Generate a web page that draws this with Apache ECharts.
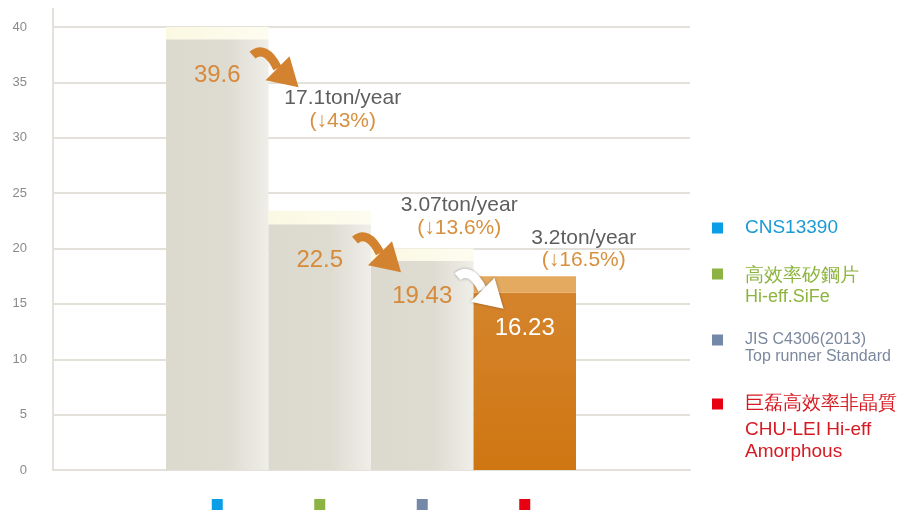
<!DOCTYPE html>
<html>
<head>
<meta charset="utf-8">
<script src="https://cdn.jsdelivr.net/npm/echarts@6/dist/echarts.min.js"></script>
<style>
  html, body { margin: 0; padding: 0; background: #fff; }
  #main { width: 898px; height: 516px; }
</style>
</head>
<body>
<div id="main"></div>
<script>
// data
var categories = ['CNS13390', '高效率矽鋼片', 'JIS C4306(2013)', '巨磊高效率非晶質'];
var valueLabels = ['39.6', '22.5', '19.43', '16.23'];
var barTops = [38.9, 22.2, 18.9, 16.0];   // top of the solid part
var capTops = [40.0, 23.4, 20.0, 17.5];   // top of the pale band above it
var savings = ['17.1ton/year', '3.07ton/year', '3.2ton/year'];
var savingPct = ['(↓43%)', '(↓13.6%)', '(↓16.5%)'];
var yMin = 0, yMax = 40, yStep = 5;

var squareColors = ['#0a9ee6', '#8db342', '#7489a8', '#e60012'];
var legendTexts = [
  [{ t: 'CNS13390', size: 19 }],
  [{ t: '高效率矽鋼片', size: 19 }, { t: 'Hi-eff.SiFe', size: 18 }],
  [{ t: 'JIS C4306(2013)', size: 16 }, { t: 'Top runner Standard', size: 16 }],
  [{ t: '巨磊高效率非晶質', size: 19 }, { t: 'CHU-LEI Hi-eff', size: 19 }, { t: 'Amorphous', size: 19 }]
];
var legendColors = ['#1b9ad4', '#8db43e', '#7b889e', '#d71a22'];

var FONT = '"Liberation Sans", Arial, sans-serif';
var lineColor = '#e3e1d9';
var orange = '#d3822f';

var greyFill = new echarts.graphic.LinearGradient(0, 0, 1, 0, [
  { offset: 0, color: '#dcd9ce' },
  { offset: 0.6, color: '#dedbd1' },
  { offset: 1, color: '#efeee8' }
]);
var capFill = new echarts.graphic.LinearGradient(0, 0, 1, 0, [
  { offset: 0, color: '#fbf8e2' },
  { offset: 1, color: '#fdfcf0' }
]);
var orangeFill = new echarts.graphic.LinearGradient(0, 0, 0, 1, [
  { offset: 0, color: '#d5842c' },
  { offset: 1, color: '#ce7612' }
]);

var chart = echarts.init(document.getElementById('main'), null, { renderer: 'canvas' });

var baseData = barTops.map(function (v, i) {
  var last = i === barTops.length - 1;
  return {
    value: v,
    itemStyle: { color: last ? orangeFill : greyFill },
    label: { color: last ? '#ffffff' : '#d68a3c' }
  };
});
var capData = capTops.map(function (v, i) {
  var last = i === capTops.length - 1;
  return {
    value: +(v - barTops[i]).toFixed(2),
    itemStyle: { color: last ? '#e4aa5f' : capFill }
  };
});

var option = {
  animation: false,
  grid: [
    { left: 53, right: 208, top: 27, bottom: 46 },
    { left: 166, right: 322, top: 27, bottom: 46 }
  ],
  xAxis: [
    {
      gridIndex: 0, type: 'category', data: [''],
      axisLine: { lineStyle: { color: lineColor, width: 2 } },
      axisTick: { show: false }, axisLabel: { show: false }
    },
    {
      gridIndex: 1, type: 'category', data: categories,
      axisLine: { show: false }, axisTick: { show: false },
      axisLabel: {
        margin: 29,
        formatter: function (v, i) { return '{s' + i + '|}'; },
        rich: {
          s0: { width: 11, height: 11, backgroundColor: squareColors[0] },
          s1: { width: 11, height: 11, backgroundColor: squareColors[1] },
          s2: { width: 11, height: 11, backgroundColor: squareColors[2] },
          s3: { width: 11, height: 11, backgroundColor: squareColors[3] }
        }
      }
    }
  ],
  yAxis: [
    {
      gridIndex: 0, type: 'value', min: yMin, max: yMax, interval: yStep,
      axisLine: { show: true, lineStyle: { color: lineColor, width: 2 } },
      axisTick: { show: false },
      axisLabel: { color: '#8a8a8a', fontSize: 13, fontFamily: FONT, margin: 26 },
      splitLine: { lineStyle: { color: lineColor, width: 2 } }
    },
    {
      gridIndex: 1, type: 'value', min: yMin, max: yMax, interval: yStep,
      axisLine: { show: false }, axisTick: { show: false },
      axisLabel: { show: false }, splitLine: { show: false }
    }
  ],
  series: [
    {
      type: 'bar', xAxisIndex: 1, yAxisIndex: 1, stack: 'a',
      barCategoryGap: 0, data: baseData,
      emphasis: { disabled: true },
      label: {
        show: true, position: 'insideTop', distance: 24,
        fontSize: 24, fontFamily: FONT,
        formatter: function (p) { return valueLabels[p.dataIndex]; }
      }
    },
    {
      type: 'bar', xAxisIndex: 1, yAxisIndex: 1, stack: 'a',
      barCategoryGap: 0, data: capData,
      emphasis: { disabled: true }
    }
  ]
};
chart.setOption(option);

// decorations anchored to the axes
function px(i, v) {
  return chart.convertToPixel({ xAxisIndex: 1, yAxisIndex: 1 }, [i, v]);
}
var band = px(1, 0)[0] - px(0, 0)[0];

function arrow(i, color, shadow) {
  var p = px(i, barTops[i]);
  var x = p[0] + band / 2 - 16;
  var y = p[1] + 16;
  var st = { fill: null, stroke: color, lineWidth: 9 };
  var hs = { fill: color };
  if (shadow) {
    st.shadowBlur = 3; st.shadowColor = 'rgba(0,0,0,0.35)';
    hs.shadowBlur = 3; hs.shadowColor = 'rgba(0,0,0,0.35)';
  }
  return {
    type: 'group', x: x, y: y, z: 100,
    children: [
      { type: 'bezierCurve', z: 100, shape: { x1: 0, y1: 0, cpx1: 8, cpy1: -7, cpx2: 17, cpy2: -3, x2: 25, y2: 13 }, style: st },
      { type: 'polygon', z: 100, shape: { points: [[13, 25], [37, 1], [46, 32]] }, style: hs }
    ]
  };
}

var annotOffset = [[23, 98, 121], [37, 205, 228], [59, 238, 260]];
var graphics = [];
var top0 = chart.convertToPixel({ xAxisIndex: 0, yAxisIndex: 0 }, [0, yMax]);
graphics.push({
  type: 'line', z: 1,
  shape: { x1: 53, y1: 8, x2: 53, y2: top0[1] },
  style: { stroke: lineColor, lineWidth: 2 }
});

graphics.push(arrow(0, orange, false));
graphics.push(arrow(1, orange, false));
graphics.push(arrow(2, '#ffffff', true));

savings.forEach(function (s, k) {
  var cx = px(k + 1, 0)[0] + annotOffset[k][0];
  graphics.push({
    type: 'text', z: 100,
    style: { x: cx, y: annotOffset[k][1], text: s, fill: '#5e5e5e', font: '21px ' + FONT, textAlign: 'center', textVerticalAlign: 'middle' }
  });
  graphics.push({
    type: 'text', z: 100,
    style: { x: cx, y: annotOffset[k][2], text: savingPct[k], fill: '#d8903f', font: '21px ' + FONT, textAlign: 'center', textVerticalAlign: 'middle' }
  });
});

// legend on the right
var legendY = [228, 274, 340, 404];
var lineOffsets = [[0], [2, 23], [0, 17], [0, 26, 48]];
legendTexts.forEach(function (lines, i) {
  graphics.push({
    type: 'rect', z: 100,
    shape: { x: 712, y: legendY[i] - 5.5, width: 11, height: 11 },
    style: { fill: squareColors[i] }
  });
  lines.forEach(function (ln, j) {
    graphics.push({
      type: 'text', z: 100,
      style: {
        x: 745, y: legendY[i] + lineOffsets[i][j],
        text: ln.t, fill: legendColors[i],
        font: ln.size + 'px ' + FONT, textAlign: 'left', textVerticalAlign: 'middle'
      }
    });
  });
});

chart.setOption({ graphic: graphics });
</script>
</body>
</html>
